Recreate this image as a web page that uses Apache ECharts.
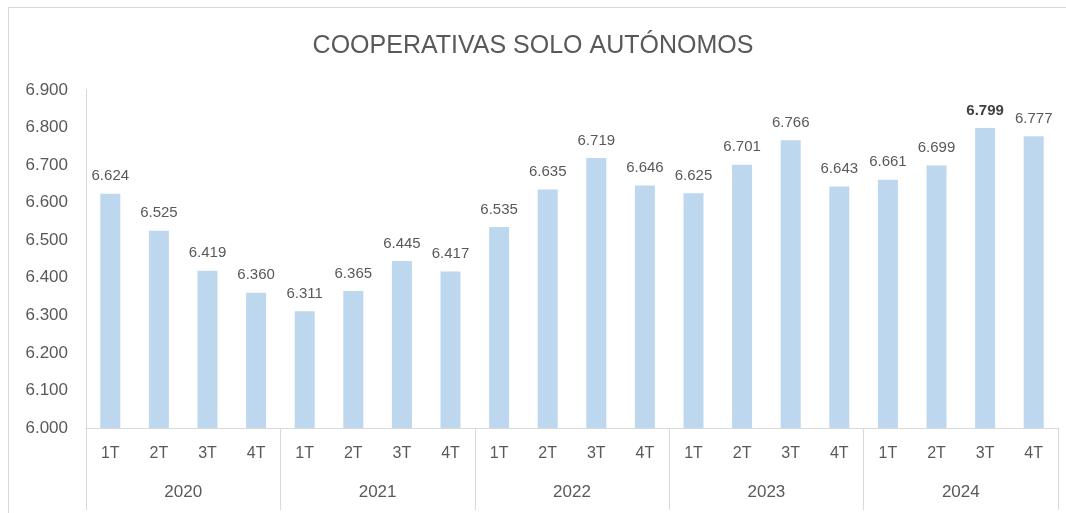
<!DOCTYPE html>
<html><head><meta charset="utf-8">
<script src="https://cdn.jsdelivr.net/npm/echarts@6/dist/echarts.min.js"></script>
<style>html,body{margin:0;padding:0;background:#fff}#c{width:1066px;height:513px}</style>
</head><body><div id="c"></div>
<script>
const quarters = ['1T','2T','3T','4T','1T','2T','3T','4T','1T','2T','3T','4T','1T','2T','3T','4T','1T','2T','3T','4T'];
const years = ['2020','2021','2022','2023','2024'];
const values = [6624,6525,6419,6360,6311,6365,6445,6417,6535,6635,6719,6646,6625,6701,6766,6643,6661,6699,6799,6777];
const highlightIndex = 18;
const yTicks = {min: 6000, max: 6900, interval: 100};

const fmt = v => { const s = String(Math.round(v)); return s.slice(0, s.length-3) + '.' + s.slice(-3); };
const FONT = 'Liberation Sans';
const TXT = '#595959';
const LINE = '#D9D9D9';

const chart = echarts.init(document.getElementById('c'), null, {renderer:'canvas'});
chart.setOption({
  animation:false,
  textStyle:{fontFamily:FONT},
  title:{text:'COOPERATIVAS SOLO AUTÓNOMOS', left:'center', top:29,
    textStyle:{fontFamily:FONT, fontSize:25, fontWeight:'normal', color:TXT}},
  graphic:[{type:'rect', shape:{x:8.5,y:7.5,width:1060,height:520}, style:{fill:'none', stroke:LINE, lineWidth:1}, silent:true}],
  grid:{left:86, right:8, top:90, bottom:85, containLabel:false},
  xAxis:[
    {type:'category', data:quarters, position:'bottom',
     axisLine:{show:true, lineStyle:{color:LINE, width:1}},
     axisTick:{show:false},
     axisLabel:{color:TXT, fontSize:16, margin:18, fontFamily:FONT}},
    {type:'category', data:years, position:'bottom', gridIndex:0,
     axisLine:{show:false},
     axisTick:{show:true, length:82, alignWithLabel:false, lineStyle:{color:LINE, width:1}},
     axisLabel:{color:TXT, fontSize:17, margin:56, fontFamily:FONT}}
  ],
  yAxis:{type:'value', min:yTicks.min, max:yTicks.max, interval:yTicks.interval,
    axisLine:{show:true, lineStyle:{color:LINE}},
    axisTick:{show:false}, splitLine:{show:false},
    axisLabel:{color:TXT, fontSize:17, margin:18, fontFamily:FONT, formatter:fmt}},
  series:[{type:'bar', xAxisIndex:0, barWidth:20,
    data: values.map((v,i)=>({value:v, label: i===highlightIndex ? {fontWeight:'bold', color:'#404040'} : undefined})),
    itemStyle:{color:'#BDD7EE'},
    label:{show:true, position:'top', distance:10, color:TXT, fontSize:15, fontFamily:FONT, formatter:p=>fmt(p.value)}
  }]
});
</script></body></html>
